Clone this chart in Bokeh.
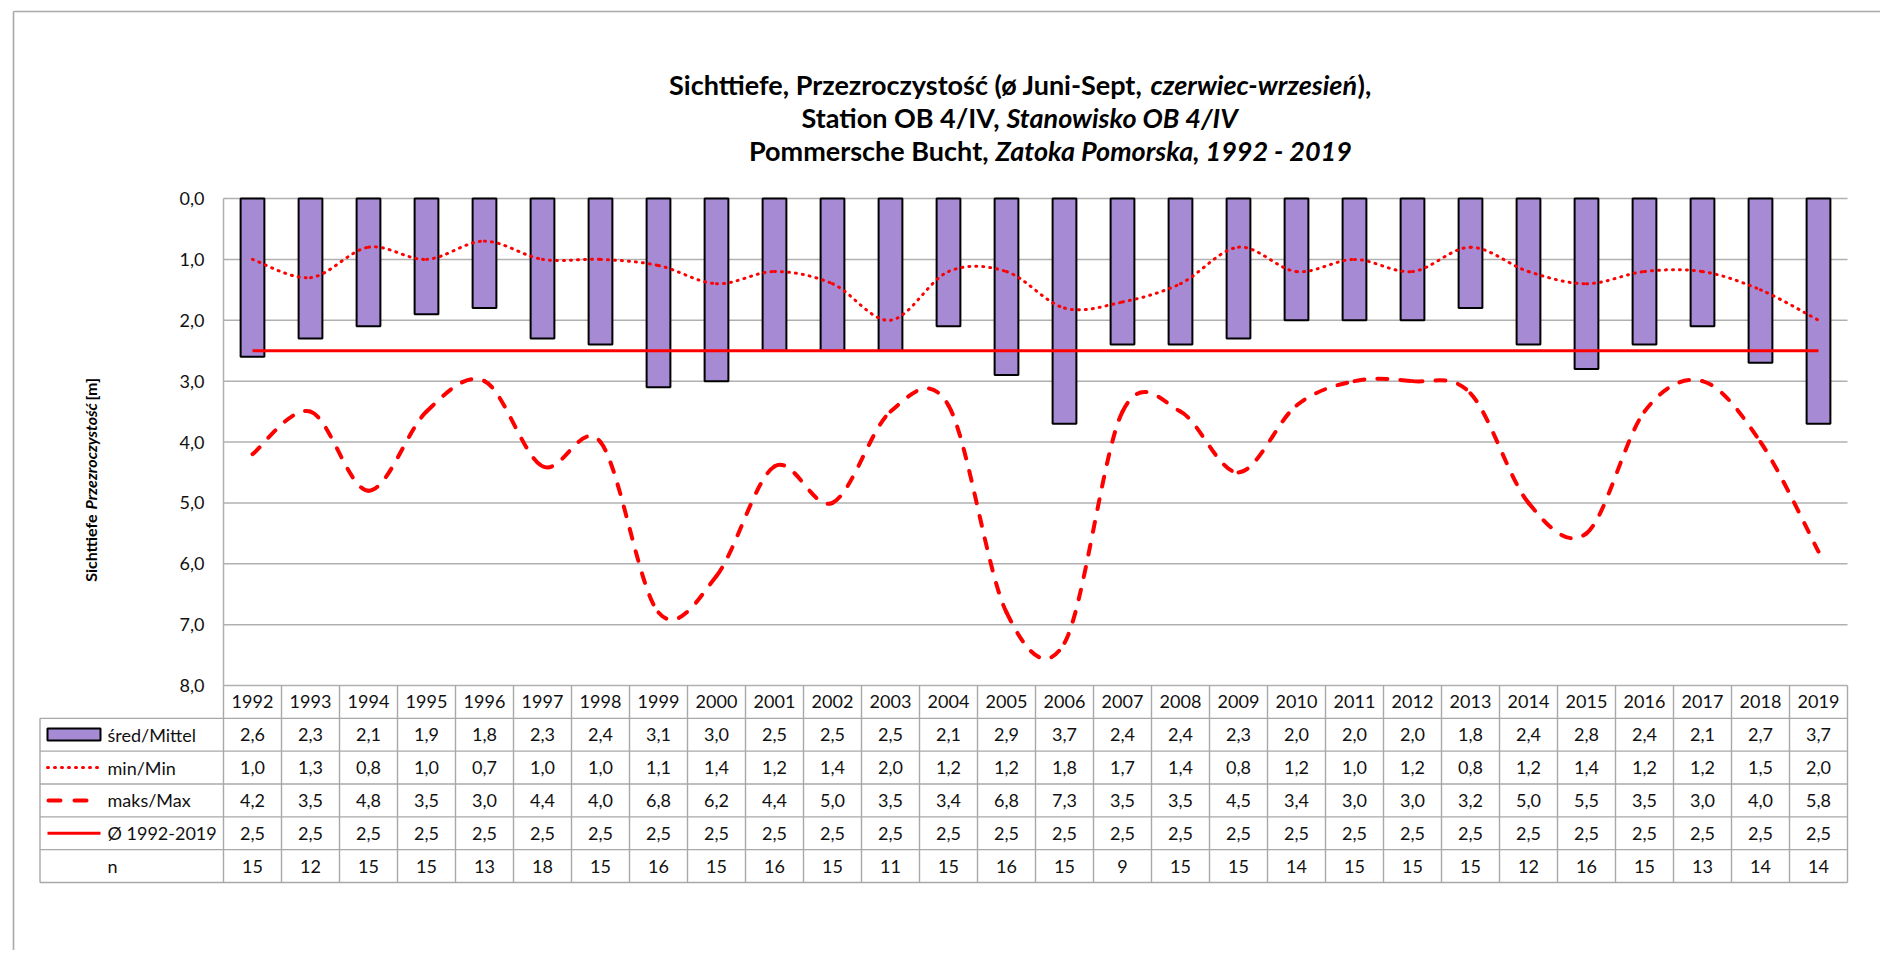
import math
from bokeh.plotting import figure
from bokeh.models import Range1d, FixedTicker, CustomJSTickFormatter, LinearAxis
from bokeh.embed import file_html
from bokeh.resources import INLINE
from bokeh.core.properties import value

# ---------------- data ----------------
years = list(range(1992, 2020))
mean_vals = [2.6, 2.3, 2.1, 1.9, 1.8, 2.3, 2.4, 3.1, 3.0, 2.5, 2.5, 2.5, 2.1, 2.9,
             3.7, 2.4, 2.4, 2.3, 2.0, 2.0, 2.0, 1.8, 2.4, 2.8, 2.4, 2.1, 2.7, 3.7]
min_vals = [1.0, 1.3, 0.8, 1.0, 0.7, 1.0, 1.0, 1.1, 1.4, 1.2, 1.4, 2.0, 1.2, 1.2,
            1.8, 1.7, 1.4, 0.8, 1.2, 1.0, 1.2, 0.8, 1.2, 1.4, 1.2, 1.2, 1.5, 2.0]
max_vals = [4.2, 3.5, 4.8, 3.5, 3.0, 4.4, 4.0, 6.8, 6.2, 4.4, 5.0, 3.5, 3.4, 6.8,
            7.3, 3.5, 3.5, 4.5, 3.4, 3.0, 3.0, 3.2, 5.0, 5.5, 3.5, 3.0, 4.0, 5.8]
avg_vals = [2.5, 2.5, 2.5, 2.5, 2.5, 2.5, 2.5, 2.5, 2.5, 2.5, 2.5, 2.5, 2.5, 2.5,
            2.5, 2.5, 2.5, 2.5, 2.5, 2.5, 2.5, 2.5, 2.5, 2.5, 2.5, 2.5, 2.5, 2.5]
n_vals = [15, 12, 15, 15, 13, 18, 15, 16, 15, 16, 15, 11, 15, 16,
          15, 9, 15, 15, 14, 15, 15, 15, 12, 16, 15, 13, 14, 14]
y_ticks = [0, 1, 2, 3, 4, 5, 6, 7, 8]
row_labels = ["śred/Mittel", "min/Min", "maks/Max", "Ø 1992-2019", "n"]

# ---------------- style / layout (page pixels) ----------------
FONT = "Lato"
PURPLE = "#A68AD4"
RED = "#FF0000"
GRID = "#B0B0B0"
TLINE = "#A8A8A8"
TXT = "#111111"

C0X, C0Y = 0, 0            # canvas origin on page
W, H = 1880, 950
PL, PR, PT, PB = 223, 1847, 198, 685   # plot area
TT = 685                   # table top
RH = (882 - 685) / 6.0     # table row height
TABLE_L = 39.5

x_lo, x_hi = years[0] - 0.5, years[-1] + 0.5
ppx = (PR - PL) / (x_hi - x_lo)
ppy = (PB - PT) / 8.0


def X(px):
    return x_lo + (px - PL) / ppx


def Y(py):
    return (py - PT) / ppy


def Y2(py):
    return (py - TT) / RH


p = figure(width=W, height=H, output_backend="svg", toolbar_location=None,
           x_range=Range1d(X(C0X), X(C0X + W)),
           y_range=Range1d(Y(C0Y + H), Y(C0Y)),
           x_axis_location=None, y_axis_location=None,
           min_border_left=0, min_border_right=0, min_border_top=0, min_border_bottom=0)
p.extra_x_ranges = {"px": Range1d(C0X, C0X + W)}
p.extra_y_ranges = {"px": Range1d(C0Y + H, C0Y), "tbl": Range1d(Y2(C0Y + H), Y2(C0Y))}
p.outline_line_color = None
p.grid.visible = False

# outer chart border (top and left edges visible)
p.segment(x0=[13, 13], x1=[13, C0X + W], y0=[11, 11], y1=[C0Y + H, 11],
          x_range_name="px", y_range_name="px", line_color="#A9A9A9", line_width=1.6)

# y axis
yax = LinearAxis(fixed_location=x_lo, bounds=(0, 8), ticker=FixedTicker(ticks=y_ticks))
yax.formatter = CustomJSTickFormatter(code="return tick.toFixed(1).replace('.', ',');")
yax.major_tick_out = 0
yax.major_tick_in = 0
yax.minor_tick_out = 0
yax.minor_tick_in = 0
yax.axis_line_color = GRID
yax.axis_line_width = 1.5
yax.major_label_standoff = 19
yax.major_label_text_font = FONT
yax.major_label_text_font_size = "18px"
yax.major_label_text_color = TXT
p.add_layout(yax, "left")

# horizontal gridlines (only across the plot area)
p.segment(x0=[x_lo] * len(y_ticks), x1=[x_hi] * len(y_ticks), y0=y_ticks, y1=y_ticks,
          line_color=GRID, line_width=1.5)

# bars
p.vbar(x=years, top=mean_vals, bottom=0, width=0.41, fill_color=PURPLE,
       line_color="#000000", line_width=2)
# long-term mean
p.line(x=years, y=avg_vals, line_color=RED, line_width=3)


def smooth_segments(xs, ys):
    n = len(xs)
    out = dict(x0=[], y0=[], x1=[], y1=[], cx0=[], cy0=[], cx1=[], cy1=[])
    for i in range(n - 1):
        a = max(i - 1, 0)
        d = min(i + 2, n - 1)
        out["x0"].append(xs[i]); out["y0"].append(ys[i])
        out["x1"].append(xs[i + 1]); out["y1"].append(ys[i + 1])
        out["cx0"].append(xs[i] + (xs[i + 1] - xs[a]) / 6.0)
        out["cy0"].append(ys[i] + (ys[i + 1] - ys[a]) / 6.0)
        out["cx1"].append(xs[i + 1] - (xs[d] - xs[i]) / 6.0)
        out["cy1"].append(ys[i + 1] - (ys[d] - ys[i]) / 6.0)
    return out


p.bezier(**smooth_segments(years, min_vals), line_color=RED, line_width=3,
         line_dash="1 6", line_cap="round")
p.bezier(**smooth_segments(years, max_vals), line_color=RED, line_width=4,
         line_dash="10 13", line_cap="round")


def txt(px, py, text, size, style="bold", align="center", angle=0.0):
    p.text(x=[px], y=[py], text=[text], x_range_name="px", y_range_name="px",
           text_font=value(FONT), text_font_size=size, text_font_style=style,
           text_align=align, text_baseline="middle", text_color="#000000", angle=angle)


# title (bold, with Polish parts in bold italic)
TS = "27px"
txt(1142, 84, "Sichttiefe, Przezroczystość (ø Juni-Sept,", TS, "bold", "right")
txt(1150, 84, "czerwiec-wrzesień", TS, "bold italic", "left")
txt(1357, 84, "),", TS, "bold", "left")
txt(999, 117, "Station OB 4/IV,", TS, "bold", "right")
txt(1006, 117, "Stanowisko OB 4/IV", TS, "bold italic", "left")
txt(988, 150, "Pommersche Bucht,", TS, "bold", "right")
txt(995, 150, "Zatoka Pomorska, 1992 - 2019", TS, "bold italic", "left")

# y-axis title (rotated)
YS = "16px"
up = math.pi / 2
txt(90, 514, "Sichttiefe", YS, "bold", "right", up)
txt(90, 509, "Przezroczystość", YS, "bold italic", "left", up)
txt(90, 400, "[m]", YS, "bold", "left", up)

# ---------------- data table ----------------
nrows = len(row_labels)
tb = nrows + 1   # header row + data rows
hl = list(range(1, tb + 1))
p.segment(x0=[X(TABLE_L)] * len(hl), x1=[x_hi] * len(hl), y0=hl, y1=hl,
          y_range_name="tbl", line_color=TLINE, line_width=1.4)
bounds = [x_lo + k for k in range(len(years) + 1)]
p.segment(x0=bounds, x1=bounds, y0=[0] * len(bounds), y1=[tb] * len(bounds),
          y_range_name="tbl", line_color=TLINE, line_width=1.4)
p.segment(x0=[X(TABLE_L)], x1=[X(TABLE_L)], y0=[1], y1=[tb],
          y_range_name="tbl", line_color=TLINE, line_width=1.4)


def fmt(v):
    return ("%.1f" % v).replace(".", ",")


cell = dict(y_range_name="tbl", text_font=value(FONT), text_font_size="18px",
            text_color=TXT, text_align="center", text_baseline="middle")
p.text(x=years, y=[0.5] * len(years), text=[str(y) for y in years], **cell)
for r, vals in enumerate([mean_vals, min_vals, max_vals, avg_vals]):
    p.text(x=years, y=[r + 1.5] * len(years), text=[fmt(v) for v in vals], **cell)
p.text(x=years, y=[5.5] * len(years), text=[str(v) for v in n_vals], **cell)

p.text(x=[X(107)] * nrows, y=[r + 1.5 for r in range(nrows)], text=row_labels,
       y_range_name="tbl", text_font=value(FONT), text_font_size="18px",
       text_color=TXT, text_align="left", text_baseline="middle")

# legend keys
p.quad(left=[X(47)], right=[X(100)], top=[Y2(728)], bottom=[Y2(740)],
       y_range_name="tbl", fill_color=PURPLE, line_color="#000000", line_width=2)
p.line(x=[X(47), X(98)], y=[2.5, 2.5], y_range_name="tbl", line_color=RED,
       line_width=3, line_dash="1 6", line_cap="round")
p.line(x=[X(48), X(90)], y=[3.5, 3.5], y_range_name="tbl", line_color=RED,
       line_width=4, line_dash="12 14", line_cap="round")
p.line(x=[X(47), X(100)], y=[4.5, 4.5], y_range_name="tbl", line_color=RED,
       line_width=3)

open("out.html", "w").write(file_html(p, INLINE))
